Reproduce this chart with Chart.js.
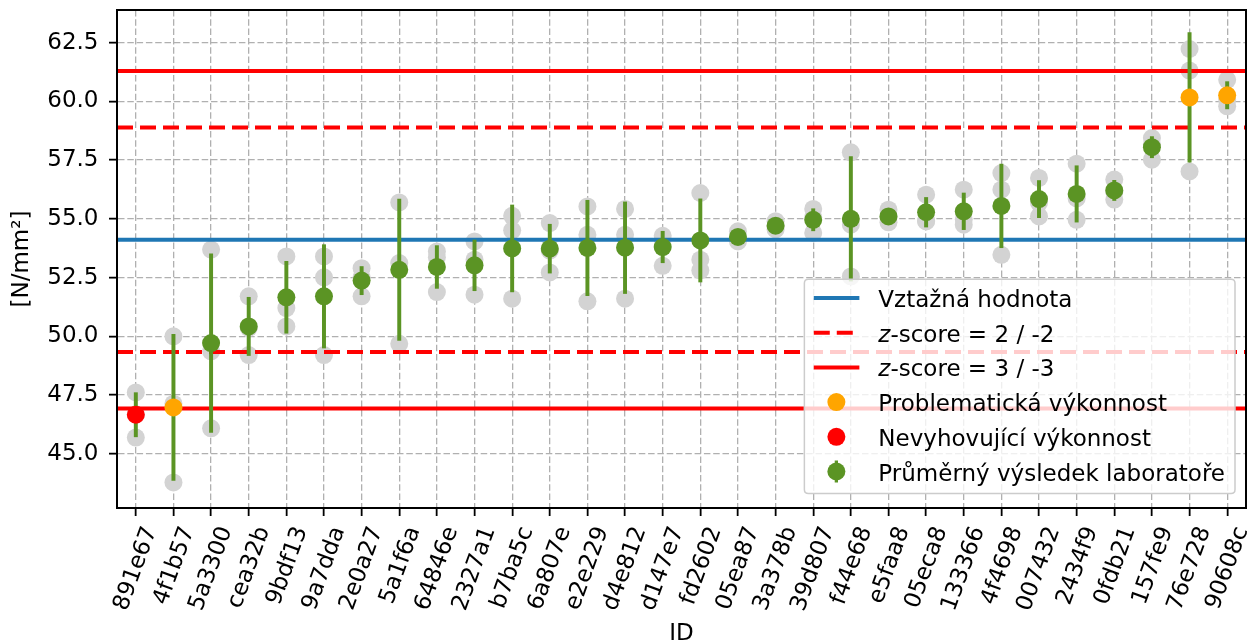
<!DOCTYPE html>
<html>
<head>
<meta charset="utf-8">
<script src="https://cdn.jsdelivr.net/npm/chart.js@4"></script>
<style>
html,body{margin:0;padding:0;background:#fff;overflow:hidden;}
#c{display:block;}
</style>
</head>
<body>
<canvas id="c" width="1247" height="644"></canvas>
<script>
// ---------- data ----------
const ids = ['891e67','4f1b57','5a3300','cea32b','9bdf13','9a7dda','2e0a27','5a1f6a','64846e','2327a1',
             'b7ba5c','6a807e','e2e229','d4e812','d147e7','fd2602','05ea87','3a378b','39d807','f44e68',
             'e5faa8','05eca8','133366','4f4698','007432','2434f9','0fdb21','157fe9','76e728','90608c'];
const means = [46.66, 46.97, 49.71, 50.42, 51.66, 51.70, 52.37, 52.83, 52.95, 53.02,
               53.74, 53.73, 53.76, 53.77, 53.80, 54.08, 54.23, 54.71, 54.96, 55.00,
               55.10, 55.28, 55.32, 55.55, 55.84, 56.06, 56.21, 58.05, 60.17, 60.26];
const stdDevs = [0.94, 3.11, 3.80, 1.24, 1.53, 2.20, 0.60, 3.01, 0.91, 1.08,
                 1.85, 1.04, 2.03, 1.95, 0.67, 1.77, 0.20, 0.18, 0.47, 2.65,
                 0.27, 0.63, 0.78, 1.78, 0.79, 1.20, 0.43, 0.45, 2.76, 0.58];
const rep1 = [47.61, 50.00, 53.69, 51.70, 53.40, 53.40, 52.90, 55.70, 53.61, 54.04,
              55.13, 54.82, 55.53, 55.42, 54.28, 56.10, 54.47, 54.90, 55.42, 57.83,
              55.39, 56.03, 56.24, 56.95, 56.74, 57.35, 56.67, 58.44, 62.23, 60.92];
const rep2 = [45.69, 43.78, 46.08, 49.20, 51.20, 52.51, 51.70, 53.12, 51.88, 53.26,
              54.51, 52.72, 54.32, 54.32, 53.00, 53.26, 54.04, 54.55, 54.40, 54.75,
              54.85, 54.89, 54.75, 56.24, 55.10, 54.96, 55.82, 57.52, 61.31, 59.79];
const rep3 = [46.68, 47.13, 49.36, 50.36, 50.42, 49.20, 52.51, 49.68, 53.36, 51.77,
              51.60, 53.65, 51.49, 51.60, 54.12, 52.81, 54.20, 54.68, 55.06, 52.55,
              55.06, 54.92, 54.97, 53.47, 55.68, 55.87, 56.14, 58.16, 57.02, 60.07];
const status = ['bad','warn','ok','ok','ok','ok','ok','ok','ok','ok',
                'ok','ok','ok','ok','ok','ok','ok','ok','ok','ok',
                'ok','ok','ok','ok','ok','ok','ok','ok','warn','warn'];
const refValue = 54.11;
const z2Lines = [58.89, 49.33];
const z3Lines = [61.29, 46.93];
const yTicks = [45.0, 47.5, 50.0, 52.5, 55.0, 57.5, 60.0, 62.5];
const yRange = [42.69, 63.89];
const legendLabels = ['Vztažná hodnota', 'z-score = 2 / -2', 'z-score = 3 / -3',
                      'Problematická výkonnost', 'Nevyhovující výkonnost', 'Průměrný výsledek laboratoře'];
const yTitle = '[N/mm²]';
const xTitle = 'ID';

// ---------- styles ----------
const GREEN = '#5b9424', ORANGE = '#ffa500', RED = '#ff0000', BLUE = '#1f77b4', GRAY = '#d3d3d3';
const statusColor = {ok: GREEN, warn: ORANGE, bad: RED};
const FONT = '"DejaVu Sans", "Liberation Sans", sans-serif';
const FS = 23;
const LINE_W = 4;
const DASH = [16, 7];

const grayPoints = [];
ids.forEach((id, i) => {
  [rep1[i], rep2[i], rep3[i]].forEach(v => grayPoints.push({x: id, y: v}));
});

const overlay = {
  id: 'overlay',
  afterDatasetDraw(chart, args) {
    if (args.index !== 2) return;
    const {ctx, chartArea: a} = chart;
    const y = chart.scales.y;
    ctx.save();
    ctx.beginPath(); ctx.rect(a.left, a.top, a.width, a.height); ctx.clip();
    ctx.lineWidth = LINE_W;
    const hline = (v, color, dash) => {
      const py = y.getPixelForValue(v);
      ctx.strokeStyle = color; ctx.setLineDash(dash);
      ctx.beginPath(); ctx.moveTo(a.left, py); ctx.lineTo(a.right, py); ctx.stroke();
    };
    hline(refValue, BLUE, []);
    z2Lines.forEach(v => hline(v, RED, DASH));
    z3Lines.forEach(v => hline(v, RED, []));
    ctx.restore();
  },
  afterDraw(chart) {
    const {ctx, chartArea: a} = chart;
    ctx.save();
    // frame
    ctx.strokeStyle = '#000'; ctx.lineWidth = 2; ctx.setLineDash([]);
    ctx.strokeRect(a.left, a.top, a.right - a.left, a.bottom - a.top);
    // legend
    ctx.font = FS + 'px ' + FONT;
    const textW = Math.max(...legendLabels.map(t => ctx.measureText(t).width));
    const boxW = 74 + textW + 10;
    const boxH = 214.2;
    const right = a.right - 11, bottom = a.bottom - 14.5;
    const left = right - boxW, top = bottom - boxH;
    const r = 4;
    ctx.beginPath();
    ctx.moveTo(left + r, top);
    ctx.lineTo(right - r, top); ctx.quadraticCurveTo(right, top, right, top + r);
    ctx.lineTo(right, bottom - r); ctx.quadraticCurveTo(right, bottom, right - r, bottom);
    ctx.lineTo(left + r, bottom); ctx.quadraticCurveTo(left, bottom, left, bottom - r);
    ctx.lineTo(left, top + r); ctx.quadraticCurveTo(left, top, left + r, top);
    ctx.closePath();
    ctx.fillStyle = 'rgba(255,255,255,0.8)'; ctx.fill();
    ctx.strokeStyle = '#cccccc'; ctx.lineWidth = 1.5; ctx.stroke();

    const cy = i => top + 18.7 + i * 34.7;
    const sx1 = left + 9.4, sx2 = left + 55, mx = left + 32;
    const seg = (i, color, dash) => {
      ctx.strokeStyle = color; ctx.lineWidth = LINE_W; ctx.setLineDash(dash);
      ctx.beginPath(); ctx.moveTo(sx1, cy(i)); ctx.lineTo(sx2, cy(i)); ctx.stroke();
      ctx.setLineDash([]);
    };
    const dot = (i, color) => {
      ctx.fillStyle = color; ctx.beginPath(); ctx.arc(mx, cy(i), 9, 0, Math.PI * 2); ctx.fill();
    };
    seg(0, BLUE, []);
    seg(1, RED, DASH);
    seg(2, RED, []);
    dot(3, ORANGE);
    dot(4, RED);
    ctx.strokeStyle = GREEN; ctx.lineWidth = 3.3;
    ctx.beginPath(); ctx.moveTo(mx, cy(5) - 11); ctx.lineTo(mx, cy(5) + 11); ctx.stroke();
    dot(5, GREEN);

    ctx.fillStyle = '#000'; ctx.textBaseline = 'alphabetic'; ctx.textAlign = 'left';
    const tx = left + 74;
    legendLabels.forEach((t, i) => {
      const by = cy(i) + 9;
      if (t.startsWith('z-')) {
        ctx.font = 'italic ' + FS + 'px ' + FONT;
        ctx.fillText('z', tx, by);
        const w = ctx.measureText('z').width;
        ctx.font = FS + 'px ' + FONT;
        ctx.fillText(t.slice(1), tx + w, by);
      } else {
        ctx.font = FS + 'px ' + FONT;
        ctx.fillText(t, tx, by);
      }
    });
    ctx.restore();
  }
};

new Chart(document.getElementById('c'), {
  type: 'bar',
  data: {
    labels: ids,
    datasets: [
      {
        type: 'line', label: 'mean', data: means, showLine: false, order: 0,
        pointRadius: 9, pointHoverRadius: 9, pointBorderWidth: 0,
        pointBackgroundColor: status.map(s => statusColor[s]),
        pointBorderColor: status.map(s => statusColor[s])
      },
      {
        type: 'bar', label: 'err', order: 1,
        data: means.map((m, i) => [m - stdDevs[i], m + stdDevs[i]]),
        backgroundColor: GREEN, borderWidth: 0, barThickness: 3.3
      },
      {
        type: 'line', label: 'reps', data: grayPoints, showLine: false, order: 2,
        pointRadius: 9, pointHoverRadius: 9, pointBorderWidth: 0,
        pointBackgroundColor: GRAY, pointBorderColor: GRAY
      }
    ]
  },
  options: {
    responsive: false, animation: false, events: [],
    layout: {autoPadding: false, padding: {left: 0, right: 1, top: 10, bottom: 0}},
    plugins: {legend: {display: false}, tooltip: {enabled: false}},
    scales: {
      x: {
        type: 'category', offset: true,
        grid: {offset: false, color: '#b0b0b0', lineWidth: 1.3, drawTicks: true, tickLength: 8,
               tickColor: '#000', tickWidth: 1.8, tickBorderDash: []},
        border: {display: true, color: '#000', width: 2, dash: [6.5, 2.8]},
        ticks: {color: '#000', font: {family: FONT, size: FS}, minRotation: 70, maxRotation: 70,
                autoSkip: false, padding: 7, labelOffset: 15},
        title: {display: true, text: xTitle, color: '#000', font: {family: FONT, size: FS},
                padding: {top: 0, bottom: -4}},
        afterFit: s => { s.height = 136; s.paddingLeft = 0; s.paddingRight = 0; }
      },
      y: {
        type: 'linear', min: yRange[0], max: yRange[1],
        grid: {color: '#b0b0b0', lineWidth: 1.3, drawTicks: true, tickLength: 8,
               tickColor: '#000', tickWidth: 1.8, tickBorderDash: []},
        border: {display: true, color: '#000', width: 2, dash: [6.5, 2.8]},
        afterBuildTicks: s => { s.ticks = yTicks.map(v => ({value: v})); },
        ticks: {color: '#000', font: {family: FONT, size: FS}, padding: 10.5,
                callback: v => Number(v).toFixed(1)},
        title: {display: true, text: yTitle, color: '#000', font: {family: FONT, size: FS},
                padding: {top: 8, bottom: 0}},
        afterFit: s => { s.width = 117; s.paddingTop = 0; s.paddingBottom = 0; }
      }
    }
  },
  plugins: [overlay]
});
</script>
</body>
</html>
